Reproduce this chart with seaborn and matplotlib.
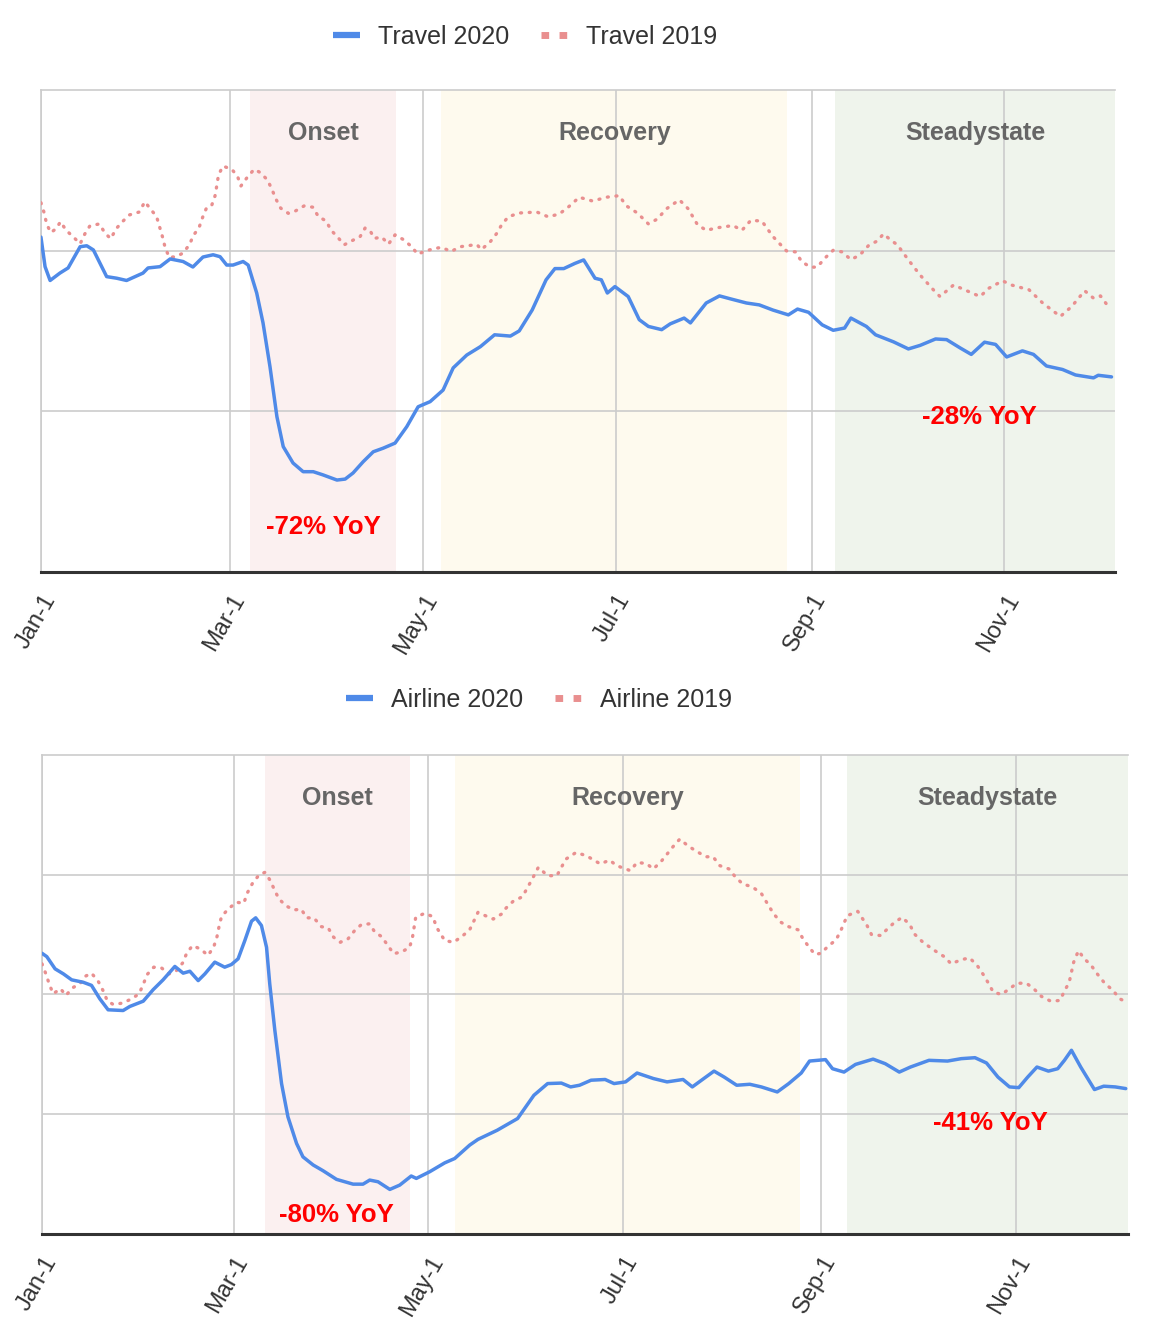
import pandas as pd
import matplotlib.pyplot as plt
import matplotlib.transforms as mtransforms
from matplotlib.lines import Line2D
import seaborn as sns

# ---------- DATA ----------
# x = days since Jan-1 2020, y = search index (arbitrary units)
month_ticks = [0, 60, 121, 182, 244, 305]
month_labels = ["Jan-1", "Mar-1", "May-1", "Jul-1", "Sep-1", "Nov-1"]

phase_names = ["Onset", "Recovery", "Steadystate"]
phase_colors = ["#fbf0f0", "#fefaee", "#eff4ec"]

travel_phase_start = [66.2, 126.7, 251.5]
travel_phase_end = [112.4, 236.3, 340]
airline_phase_start = [69.8, 129.2, 252.1]
airline_phase_end = [115.1, 237.4, 340]

travel_2020_day = [0, 1.3, 2.9, 6.0, 8.6, 12.4, 14.5, 16.6, 20.8, 24.0,
                   27.1, 32.3, 33.9, 37.7, 40.9, 45.0, 48.1, 51.3, 54.5, 56.7,
                   58.8, 60.8, 64.0, 65.6, 68.3, 70.3, 72.5, 74.7, 76.7, 79.8,
                   83.0, 86.2, 89.3, 93.7, 96.3, 98.8, 102.0, 105.2, 108.3, 112.1,
                   115.8, 119.4, 123.2, 127.3, 130.5, 134.8, 139.1, 143.6, 148.6, 151.4,
                   155.5, 159.9, 162.7, 165.5, 169.0, 171.8, 175.4, 177.4, 179.3, 181.7,
                   185.9, 189.4, 192.3, 196.5, 199.2, 203.6, 205.6, 210.6, 214.8, 218.2,
                   223.3, 227.4, 231.7, 236.6, 239.5, 243.0, 247.3, 250.8, 254.4, 256.4,
                   261.3, 264.2, 269.9, 274.6, 278.3, 283.2, 286.7, 291.0, 294.5, 298.7,
                   302.2, 305.7, 310.7, 314.2, 318.3, 323.4, 327.5, 333.2, 334.7, 338.9]
travel_2020_val = [104.2, 95.0, 90.7, 93.0, 94.6, 101.2, 101.5, 100.2, 91.9, 91.4,
                   90.7, 93.0, 94.6, 95.0, 97.4, 96.6, 94.9, 98.0, 98.7, 98.1,
                   95.5, 95.5, 96.6, 95.5, 86.8, 77.5, 63.9, 48.3, 39.0, 33.9,
                   31.2, 31.2, 30.2, 28.6, 28.9, 30.8, 34.3, 37.4, 38.5, 40.1,
                   45.2, 51.4, 53.0, 56.6, 63.5, 67.5, 70.1, 73.8, 73.4, 75.0,
                   81.5, 90.9, 94.4, 94.4, 96.0, 97.1, 91.4, 90.9, 86.8, 88.8,
                   85.7, 78.5, 76.4, 75.4, 77.2, 79.0, 77.5, 83.7, 85.9, 85.0,
                   83.7, 83.1, 81.5, 80.0, 81.8, 80.8, 76.9, 75.2, 75.9, 79.0,
                   76.4, 73.8, 71.6, 69.4, 70.5, 72.5, 72.3, 69.7, 67.7, 71.5,
                   70.8, 66.9, 68.8, 67.7, 64.1, 63.0, 61.3, 60.4, 61.2, 60.7]

travel_2019_day = [0, 1.0, 1.8, 3.1, 4.8, 6.2, 7.9, 10.5, 12.4, 13.9,
                   15.5, 18.5, 20.3, 22.1, 23.8, 25.9, 28.0, 31.1, 32.9, 34.7,
                   36.6, 38.5, 39.3, 40.6, 42.8, 44.9, 47.0, 48.2, 50.1, 51.2,
                   52.5, 54.1, 55.1, 55.7, 56.2, 57.6, 60.4, 62.2, 63.3, 65.3,
                   67.5, 69.4, 71.7, 73.1, 74.4, 75.9, 78.3, 80.5, 83.3, 86.1,
                   87.8, 90.3, 91.8, 93.9, 96.0, 98.5, 101.0, 102.6, 104.2, 105.5,
                   107.9, 110.0, 112.1, 114.6, 117.4, 119.2, 122.2, 124.8, 126.9, 129.8,
                   132.7, 138.0, 139.4, 142.2, 144.4, 145.7, 147.9, 151.4, 157.0, 160.6,
                   164.1, 166.9, 170.4, 174.7, 178.9, 183.1, 185.2, 188.8, 192.3, 195.1,
                   198.0, 202.1, 204.9, 207.8, 210.6, 214.1, 219.1, 221.9, 224.7, 228.2,
                   231.7, 236.0, 238.8, 240.9, 243.7, 245.8, 248.0, 250.8, 253.6, 256.4,
                   259.2, 262.1, 264.8, 266.7, 269.1, 271.1, 274.6, 278.3, 282.5, 284.6,
                   288.9, 292.4, 297.3, 300.1, 304.4, 307.2, 312.8, 317.1, 322.7, 326.3,
                   330.4, 333.2, 335.4, 337.5, 338.9]
travel_2019_val = [114.9, 111.8, 108.3, 105.6, 106.8, 109.0, 106.4, 104.0, 102.1, 105.2,
                   107.7, 108.3, 105.4, 103.7, 106.8, 109.1, 111.1, 112.0, 115.2, 112.9,
                   110.6, 104.2, 101.0, 97.9, 98.1, 99.2, 101.8, 104.6, 107.3, 110.4,
                   113.5, 114.2, 117.0, 120.4, 123.5, 126.3, 125.3, 123.2, 120.1, 122.8,
                   125.3, 124.3, 122.0, 119.1, 116.0, 113.2, 111.6, 112.3, 113.9, 113.5,
                   110.6, 109.2, 106.4, 104.2, 101.8, 103.1, 104.3, 107.0, 106.2, 103.8,
                   104.2, 102.0, 104.9, 103.5, 101.2, 98.9, 100.0, 100.7, 101.0, 99.7,
                   101.2, 101.9, 100.3, 102.7, 105.5, 107.8, 110.5, 111.7, 112.0, 110.5,
                   111.4, 113.5, 116.6, 115.4, 116.6, 117.1, 114.0, 111.7, 108.3, 109.8,
                   113.0, 115.8, 113.0, 108.1, 106.3, 107.1, 107.8, 106.3, 109.4, 109.2,
                   104.4, 99.9, 99.6, 96.5, 94.8, 94.9, 97.5, 100.1, 99.6, 97.2,
                   98.6, 101.7, 103.0, 105.2, 103.2, 101.8, 97.1, 92.4, 87.8, 85.7,
                   89.3, 87.8, 85.7, 88.3, 90.6, 89.3, 87.8, 83.7, 79.5, 82.6,
                   87.5, 85.2, 85.9, 83.1, 82.6]

airline_2020_day = [0, 1.5, 4.1, 6.7, 9.3, 12.9, 15.5, 18.1, 20.7, 25.4,
                    27.5, 31.7, 34.8, 37.9, 41.6, 44.2, 46.3, 48.9, 51.0, 54.1,
                    57.2, 59.3, 61.4, 63.5, 65.6, 66.9, 68.7, 70.3, 71.3, 72.9,
                    75.0, 77.0, 79.7, 81.7, 84.9, 88.0, 92.2, 97.4, 100.5, 102.6,
                    105.2, 108.9, 112.0, 115.6, 117.2, 121.4, 126.1, 129.2, 133.9, 136.5,
                    142.5, 148.9, 154.0, 158.3, 162.6, 165.5, 168.3, 171.9, 176.3, 179.1,
                    182.7, 186.3, 191.4, 195.7, 200.7, 203.6, 207.2, 210.4, 213.6, 217.5,
                    221.6, 225.2, 230.2, 233.8, 237.7, 240.3, 245.3, 247.5, 251.1, 254.7,
                    260.2, 264.0, 268.4, 271.9, 277.7, 283.5, 287.8, 292.1, 295.7, 299.3,
                    302.9, 305.8, 308.6, 311.5, 315.1, 318.0, 320.1, 322.3, 325.2, 329.5,
                    332.4, 336.0, 339.3]
airline_2020_val = [117.2, 115.8, 110.7, 108.6, 106.1, 105.1, 103.8, 98.2, 93.6, 93.3,
                    95.0, 97.2, 102.0, 106.1, 111.7, 108.9, 109.7, 105.8, 108.6, 113.5,
                    111.4, 112.5, 114.9, 122.5, 130.6, 132.0, 128.8, 119.7, 104.5, 85.0,
                    62.8, 48.9, 37.8, 32.2, 28.8, 26.4, 22.8, 20.8, 20.8, 22.5,
                    21.8, 18.6, 20.4, 24.2, 23.2, 26.0, 29.7, 31.5, 37.1, 39.5,
                    43.3, 48.2, 57.9, 62.8, 63.0, 61.4, 62.1, 64.2, 64.5, 62.8,
                    63.5, 67.2, 64.9, 63.5, 64.5, 61.4, 64.9, 68.0, 65.5, 62.1,
                    62.5, 61.4, 59.3, 62.8, 67.2, 72.2, 72.8, 69.0, 67.6, 70.8,
                    73.0, 71.1, 67.6, 69.7, 72.5, 72.2, 73.2, 73.6, 71.4, 65.5,
                    61.4, 61.1, 65.5, 69.7, 68.0, 69.0, 72.5, 76.7, 69.7, 60.3,
                    61.7, 61.4, 60.7]

airline_2019_day = [0, 1.3, 2.3, 3.5, 5.8, 7.5, 9.6, 11.9, 13.4, 15.5,
                    17.6, 19.2, 20.4, 22.3, 25.2, 28.1, 30.4, 31.7, 32.9, 35.0,
                    37.4, 39.8, 42.1, 44.0, 45.3, 47.1, 49.6, 52.0, 53.8, 54.8,
                    55.5, 56.2, 58.3, 60.9, 63.2, 64.2, 65.9, 68.0, 69.8, 71.5,
                    72.9, 74.2, 76.3, 78.8, 81.2, 82.8, 85.1, 87.5, 89.6, 91.3,
                    93.4, 95.8, 97.9, 100.0, 102.6, 104.2, 106.3, 108.3, 110.1, 112.8,
                    115.1, 116.0, 117.0, 119.8, 122.4, 123.5, 126.1, 128.9, 131.8, 133.9,
                    136.5, 138.8, 141.3, 143.9, 145.3, 147.5, 150.4, 153.2, 155.4, 158.3,
                    161.2, 164.0, 167.2, 170.5, 174.8, 177.7, 179.9, 184.2, 186.3, 189.2,
                    191.4, 194.0, 195.7, 197.8, 199.7, 202.2, 205.0, 207.9, 210.1, 212.2,
                    215.1, 217.0, 219.4, 222.3, 225.2, 227.3, 229.1, 231.4, 233.8, 236.7,
                    238.1, 240.0, 242.0, 243.9, 246.0, 248.6, 250.1, 252.1, 255.4, 258.3,
                    259.7, 262.6, 264.7, 266.9, 269.3, 271.7, 273.1, 275.5, 277.7, 280.3,
                    282.7, 284.6, 287.8, 290.4, 292.8, 294.7, 296.4, 297.8, 300.4, 302.9,
                    305.3, 308.2, 310.5, 312.9, 315.8, 318.7, 320.1, 321.6, 323.0, 324.5,
                    326.3, 328.3, 330.2, 332.7, 335.3, 337.4, 339.6]
airline_2019_val = [112.8, 108.3, 104.2, 100.3, 102.4, 99.6, 102.8, 104.5, 107.5, 108.9,
                    105.5, 101.4, 97.5, 95.8, 96.4, 98.2, 100.3, 104.2, 108.3, 111.4,
                    111.1, 108.6, 110.0, 113.1, 117.2, 120.4, 119.0, 116.3, 120.0, 124.2,
                    128.8, 132.5, 135.7, 138.5, 138.1, 142.2, 146.4, 150.0, 151.0, 147.5,
                    143.3, 139.9, 137.1, 135.3, 135.6, 132.0, 132.0, 128.3, 127.8, 123.9,
                    121.8, 123.2, 126.7, 129.2, 129.5, 126.0, 124.2, 120.4, 117.0, 117.9,
                    119.7, 123.9, 132.2, 133.9, 132.5, 128.1, 122.5, 121.8, 124.6, 127.0,
                    134.3, 132.9, 131.5, 133.6, 136.1, 138.9, 140.8, 147.5, 153.1, 149.6,
                    149.6, 156.5, 159.3, 157.9, 154.5, 156.1, 153.8, 151.7, 155.1, 154.7,
                    152.4, 155.8, 158.6, 162.1, 164.9, 162.1, 159.7, 157.5, 157.5, 153.8,
                    152.4, 149.2, 146.1, 145.0, 142.2, 137.5, 133.6, 130.1, 128.3, 127.0,
                    123.6, 120.0, 116.7, 117.2, 120.0, 122.8, 126.7, 132.9, 134.7, 128.8,
                    125.0, 124.6, 127.4, 130.1, 132.2, 129.2, 125.3, 122.2, 120.0, 117.6,
                    115.6, 112.8, 114.5, 115.3, 112.1, 108.3, 104.5, 101.0, 100.0, 102.4,
                    104.7, 104.7, 102.4, 99.2, 97.2, 97.5, 101.4, 105.1, 113.5, 118.3,
                    114.9, 112.5, 108.9, 104.7, 101.7, 98.2, 96.8]

travel_yoy_text = ["-72% YoY", "-28% YoY"]
travel_yoy_day = [89.3, 297.0]
travel_yoy_val = [14.0, 48.2]
airline_yoy_text = ["-80% YoY", "-41% YoY"]
airline_yoy_day = [92.3, 296.8]
airline_yoy_val = [7.9, 46.3]

# ---------- STYLE ----------
sns.set_theme(style="white")
plt.rcParams["font.family"] = ["Liberation Sans", "DejaVu Sans"]

BLUE = "#4f8ae8"
PINK = "#e98f8f"
GRID = "#cccccc"


def draw_panel(ax, d20, v20, d19, v19, starts, ends, ymax,
               yoy_text, yoy_day, yoy_val):
    for name, s, e, c in zip(phase_names, starts, ends, phase_colors):
        ax.axvspan(s, e, color=c, zorder=0.1, lw=0)
        ax.text((s + e) / 2, 0.91, name,
                transform=mtransforms.blended_transform_factory(ax.transData, ax.transAxes),
                ha="center", va="center", fontsize=18, fontweight="bold",
                color="#666666")

    df20 = pd.DataFrame({"day": d20, "value": v20})
    df19 = pd.DataFrame({"day": d19, "value": v19})
    sns.lineplot(data=df19, x="day", y="value", ax=ax, color=PINK,
                 linewidth=2.4, linestyle=(0, (0.3, 2.3)),
                 dash_capstyle="round", estimator=None, sort=False, zorder=3)
    sns.lineplot(data=df20, x="day", y="value", ax=ax, color=BLUE,
                 linewidth=2.5, estimator=None, sort=False, zorder=4)

    for t, d, v in zip(yoy_text, yoy_day, yoy_val):
        ax.text(d, v, t, ha="center", va="center", fontsize=18.5,
                fontweight="bold", color="#ff0000", zorder=5)

    ax.set_xlim(0, 340)
    ax.set_ylim(0, ymax)
    ax.set_xticks(month_ticks)
    ax.set_xticklabels(month_labels, rotation=60, ha="right", va="top",
                       rotation_mode="anchor")
    ax.set_yticks(list(range(50, ymax, 50)))
    ax.set_yticklabels([])
    ax.tick_params(axis="x", length=0, pad=13, labelsize=17, labelcolor="#333333")
    ax.tick_params(axis="y", length=0)
    ax.set_xlabel("")
    ax.set_ylabel("")
    ax.set_axisbelow(True)
    ax.grid(True, color=GRID, linewidth=1.2, zorder=0.5)
    ax.set_facecolor("white")
    ax.spines["right"].set_visible(False)
    ax.spines["top"].set_color(GRID)
    ax.spines["top"].set_linewidth(1.2)
    ax.spines["left"].set_color(GRID)
    ax.spines["left"].set_linewidth(1.2)
    ax.spines["bottom"].set_color("#333333")
    ax.spines["bottom"].set_linewidth(2.2)
    for gl in ax.get_xgridlines() + ax.get_ygridlines():
        gl.set_zorder(0.5)


fig = plt.figure(figsize=(11.6, 13.32), dpi=100)
ax1 = fig.add_axes([0.0353, 0.5706, 0.9259, 0.3619])
ax2 = fig.add_axes([0.0362, 0.0736, 0.9362, 0.3596])

draw_panel(ax1, travel_2020_day, travel_2020_val, travel_2019_day, travel_2019_val,
           travel_phase_start, travel_phase_end, 150,
           travel_yoy_text, travel_yoy_day, travel_yoy_val)
draw_panel(ax2, airline_2020_day, airline_2020_val, airline_2019_day, airline_2019_val,
           airline_phase_start, airline_phase_end, 200,
           airline_yoy_text, airline_yoy_day, airline_yoy_val)

# ---------- LEGENDS ----------
def legend_handles():
    h20 = Line2D([0], [0], color=BLUE, lw=4.5, solid_capstyle="butt")
    h19 = Line2D([0], [0], color=PINK, lw=5, linestyle=(0, (1.1, 1.5)),
                 dash_capstyle="butt")
    return [h20, h19]


for labels, cx, cy in [(["Travel 2020", "Travel 2019"], 0.4526, 0.9722),
                       (["Airline 2020", "Airline 2019"], 0.4647, 0.4745)]:
    fig.legend(legend_handles(), labels, loc="center", bbox_to_anchor=(cx, cy),
               ncol=2, frameon=False, fontsize=18, handlelength=1.1,
               handletextpad=0.7, columnspacing=1.3, labelcolor="#333333")

fig.savefig("out.png", dpi=100)
plt.close(fig)
